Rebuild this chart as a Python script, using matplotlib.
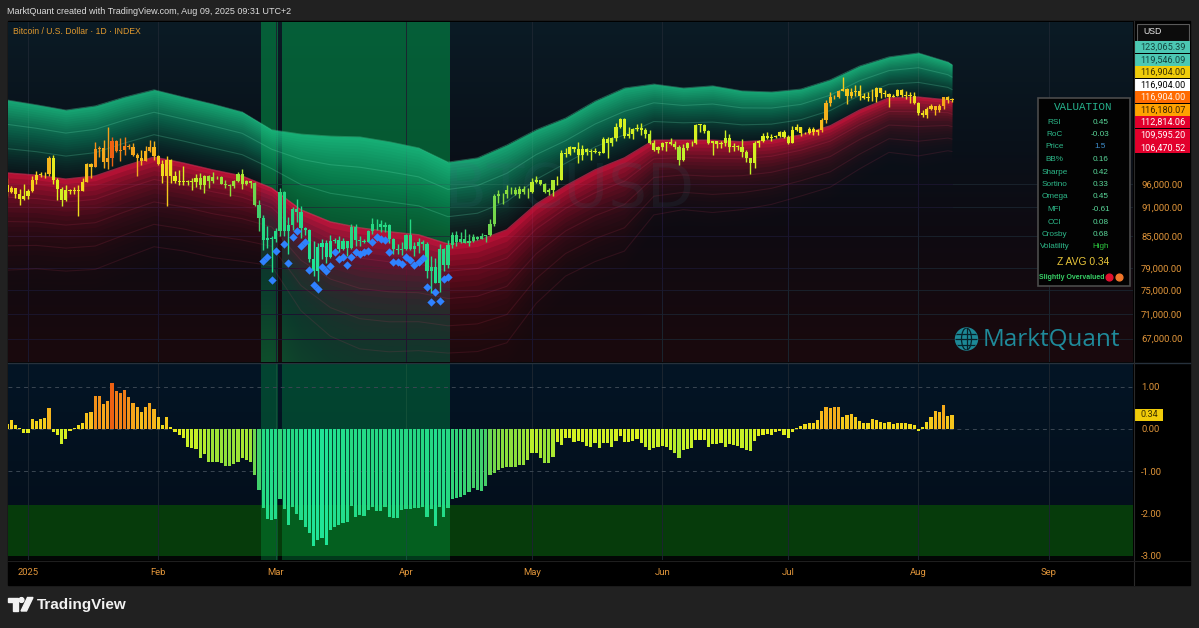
import numpy as np
import pandas as pd
import matplotlib
matplotlib.use("Agg")
import matplotlib.pyplot as plt
import matplotlib.dates as mdates
from matplotlib.colors import LinearSegmentedColormap, Normalize
from matplotlib.patches import Rectangle, Circle, Polygon, Ellipse
from matplotlib.ticker import FixedLocator, NullLocator, FuncFormatter

# ---------------- data ----------------
# BTCUSD daily candles (thousands of USD), first candle 2024-12-27, last 2025-08-09
first_open = 95.7
close = [
    94.2, 95.1, 93.7, 92.8, 93.4,
    94.4, 96.9, 98.1, 98.2, 98.3, 102.1, 96.9, 95.0, 92.5, 94.7,
    94.5, 94.5, 94.5, 96.5, 100.5, 99.9, 104.1, 104.4, 101.1, 102.0,
    106.1, 103.7, 104.0, 104.8, 104.7, 102.6, 102.1, 101.3, 103.7, 104.7,
    102.4, 100.6, 97.7, 101.4, 97.9, 96.6, 96.5, 96.5, 96.6, 96.5,
    97.4, 95.8, 97.9, 96.6, 97.5, 97.6, 96.1, 95.8, 95.5, 96.6,
    98.3, 96.1, 96.6, 96.3, 91.5, 88.7, 84.3, 84.7, 84.4, 86.0,
    94.3, 86.1, 87.2, 90.6, 89.9, 86.7, 86.2, 80.7, 78.5, 83.0,
    83.7, 81.1, 84.0, 84.3, 82.6, 84.1, 82.7, 86.9, 84.2, 84.0,
    83.8, 86.1, 87.5, 87.4, 86.9, 87.2, 84.4, 82.6, 82.3, 82.5,
    85.2, 82.5, 83.1, 83.8, 83.5, 78.4, 79.2, 76.3, 82.6, 79.6,
    83.4, 85.3, 83.8, 84.5, 83.7, 84.1, 84.9, 84.5, 85.1, 85.2,
    87.5, 93.4, 93.7, 93.9, 94.7, 94.6, 93.8, 95.0, 94.3, 94.2,
    96.5, 96.9, 95.9, 94.3, 94.7, 96.8, 97.0, 103.2, 102.9, 104.6,
    104.1, 102.8, 104.1, 103.5, 103.7, 103.5, 103.2, 106.5, 105.6, 106.8,
    109.7, 111.7, 107.3, 107.8, 109.0, 109.4, 108.9, 107.8, 105.6, 103.9,
    104.6, 105.7, 105.8, 105.4, 104.7, 101.5, 104.3, 105.6, 105.7, 110.2,
    110.2, 108.6, 105.7, 106.1, 105.4, 105.6, 106.8, 104.6, 104.9, 104.6,
    103.3, 102.1, 100.9, 105.6, 106.0, 107.3, 106.9, 107.1, 107.4, 108.4,
    107.1, 105.7, 108.8, 109.6, 108.0, 108.2, 109.2, 108.3, 108.9, 111.3,
    116.0, 117.5, 117.4, 119.1, 119.8, 117.7, 118.8, 119.3, 117.9, 117.3,
    117.4, 117.4, 119.9, 118.6, 118.3, 117.6, 117.9, 119.4, 118.0, 117.9,
    117.8, 115.8, 113.3, 112.6, 114.2, 115.0, 114.1, 115.0, 117.5, 116.7,
    116.9,
]
high = [
    97.3, 95.5, 95.2, 94.9, 96.1,
    94.9, 97.8, 98.9, 98.7, 98.8, 102.5, 102.7, 97.3, 95.3, 95.8,
    95.0, 95.4, 95.8, 97.4, 100.7, 100.9, 105.9, 104.9, 106.3, 109.6,
    107.2, 106.3, 106.8, 107.1, 105.3, 105.5, 103.2, 103.8, 104.8, 106.4,
    106.0, 102.8, 101.5, 102.5, 101.7, 99.0, 99.2, 100.1, 96.9, 97.3,
    98.3, 98.5, 98.1, 98.0, 98.8, 97.9, 97.7, 97.0, 96.1, 96.9,
    98.8, 99.5, 96.9, 96.5, 96.5, 92.5, 89.3, 87.0, 85.1, 86.6,
    95.1, 94.4, 88.9, 91.0, 92.8, 91.3, 86.9, 86.5, 84.0, 83.6,
    84.4, 84.3, 85.3, 84.7, 85.0, 84.7, 84.0, 87.4, 87.4, 85.0,
    84.5, 86.2, 88.7, 88.5, 88.3, 87.8, 87.5, 84.6, 83.5, 83.9,
    85.5, 88.5, 83.9, 84.7, 84.2, 83.8, 81.2, 80.8, 83.5, 82.7,
    84.2, 85.9, 86.1, 85.8, 86.4, 85.5, 85.5, 85.1, 85.6, 85.3,
    88.5, 93.9, 94.7, 94.0, 95.8, 95.3, 95.3, 95.6, 95.5, 95.2,
    97.4, 97.9, 96.9, 96.2, 95.2, 96.9, 97.7, 104.0, 104.3, 104.9,
    104.6, 105.8, 105.0, 104.3, 104.2, 104.5, 103.7, 107.1, 107.1, 107.1,
    110.7, 112.0, 111.9, 109.5, 109.3, 110.4, 110.7, 109.3, 108.9, 106.3,
    104.9, 105.9, 105.9, 106.8, 106.0, 105.0, 105.4, 105.9, 106.0, 110.5,
    110.4, 110.4, 108.8, 106.2, 106.2, 106.0, 108.9, 107.8, 105.6, 105.2,
    106.5, 104.0, 102.1, 106.1, 106.3, 108.0, 108.3, 107.8, 107.6, 108.5,
    108.8, 107.5, 109.8, 110.5, 109.7, 108.4, 109.7, 109.7, 109.2, 111.9,
    116.8, 118.9, 118.2, 119.5, 123.2, 119.9, 119.9, 120.9, 120.9, 118.6,
    118.9, 119.7, 120.2, 120.1, 119.5, 118.5, 118.3, 119.8, 119.8, 119.2,
    118.8, 118.9, 116.1, 114.0, 114.8, 115.7, 115.1, 115.7, 117.6, 117.7,
    117.3,
]
low = [
    93.3, 94.0, 93.0, 91.5, 92.5,
    92.8, 94.2, 96.0, 97.6, 97.3, 97.9, 96.1, 92.5, 91.2, 92.2,
    93.8, 93.7, 89.2, 94.4, 96.5, 97.3, 99.9, 102.3, 99.6, 99.5,
    100.1, 103.3, 101.3, 102.8, 104.1, 102.5, 97.8, 100.3, 101.3, 103.3,
    101.6, 100.3, 96.2, 91.2, 96.2, 96.2, 95.7, 95.7, 95.7, 94.7,
    95.3, 94.9, 94.1, 95.2, 96.3, 97.2, 96.0, 95.2, 93.4, 95.1,
    96.4, 94.9, 95.8, 95.2, 91.2, 86.0, 82.3, 82.8, 78.2, 83.8,
    85.1, 85.1, 81.5, 86.3, 87.9, 84.7, 85.3, 80.1, 77.5, 76.6,
    80.6, 79.9, 80.8, 83.6, 82.0, 82.4, 81.2, 82.6, 83.2, 83.2,
    83.6, 83.8, 85.5, 86.3, 85.9, 85.9, 83.6, 81.6, 81.6, 81.3,
    82.4, 82.3, 81.2, 81.7, 82.4, 77.2, 74.5, 76.2, 74.6, 78.5,
    78.9, 82.8, 83.1, 83.7, 83.6, 83.1, 83.9, 84.3, 84.4, 83.9,
    85.1, 87.1, 91.9, 91.7, 92.9, 93.9, 93.6, 92.9, 93.8, 92.9,
    94.1, 96.3, 95.8, 94.1, 93.5, 93.4, 95.8, 97.0, 102.3, 102.8,
    103.3, 100.8, 101.5, 102.7, 101.4, 103.1, 102.6, 103.1, 102.0, 104.8,
    106.1, 109.3, 106.8, 106.9, 106.6, 108.7, 107.6, 106.8, 105.4, 103.6,
    103.1, 103.9, 103.7, 105.0, 104.2, 100.4, 101.2, 103.9, 104.9, 105.3,
    108.4, 108.1, 105.4, 102.7, 104.3, 104.5, 104.9, 103.4, 103.6, 103.9,
    102.3, 101.0, 98.2, 99.6, 104.6, 105.9, 106.6, 106.2, 106.9, 107.2,
    106.8, 105.3, 105.6, 108.6, 107.3, 107.8, 107.8, 107.5, 107.5, 108.4,
    110.6, 115.2, 116.9, 117.3, 119.1, 115.7, 117.2, 117.8, 116.8, 117.0,
    116.5, 116.5, 116.1, 117.3, 117.4, 114.7, 117.5, 117.8, 117.5, 116.9,
    115.8, 115.5, 112.7, 112.1, 112.0, 114.1, 112.7, 113.4, 114.3, 115.9,
    116.3,
]

# valuation z-score (lower pane), one value per candle
zscore = [
    0.12, 0.21, 0.10, 0.02, -0.09, -0.09, 0.23, 0.20, 0.23, 0.25,
    0.49, -0.06, -0.14, -0.35, -0.24, -0.05, 0.02, 0.10, 0.15, 0.37,
    0.39, 0.78, 0.78, 0.58, 0.66, 1.09, 0.90, 0.86, 0.92, 0.76,
    0.61, 0.53, 0.39, 0.51, 0.61, 0.47, 0.29, 0.10, 0.29, 0.05,
    -0.06, -0.14, -0.22, -0.43, -0.46, -0.48, -0.69, -0.58, -0.77, -0.77,
    -0.77, -0.81, -0.87, -0.87, -0.83, -0.77, -0.69, -0.73, -0.79, -1.09,
    -1.44, -1.87, -2.13, -2.16, -2.12, -1.66, -1.90, -2.27, -1.85, -2.00,
    -2.15, -2.31, -2.46, -2.76, -2.63, -2.58, -2.75, -2.38, -2.32, -2.27,
    -2.23, -2.19, -1.82, -2.07, -2.03, -2.05, -1.91, -1.84, -1.93, -1.95,
    -1.84, -2.07, -2.11, -2.11, -1.91, -1.90, -1.90, -1.86, -1.86, -1.84,
    -2.07, -1.90, -2.30, -1.84, -2.07, -1.87, -1.66, -1.64, -1.60, -1.56,
    -1.50, -1.40, -1.44, -1.46, -1.35, -1.09, -1.05, -0.97, -0.93, -0.90,
    -0.89, -0.90, -0.85, -0.85, -0.73, -0.56, -0.57, -0.69, -0.81, -0.81,
    -0.67, -0.30, -0.38, -0.22, -0.22, -0.30, -0.28, -0.30, -0.40, -0.42,
    -0.32, -0.46, -0.32, -0.34, -0.43, -0.28, -0.16, -0.30, -0.30, -0.28,
    -0.24, -0.33, -0.43, -0.50, -0.46, -0.43, -0.40, -0.43, -0.50, -0.56,
    -0.69, -0.50, -0.48, -0.46, -0.26, -0.26, -0.26, -0.42, -0.36, -0.36,
    -0.34, -0.43, -0.36, -0.38, -0.40, -0.46, -0.50, -0.51, -0.28, -0.17,
    -0.14, -0.13, -0.14, -0.06, -0.04, -0.14, -0.22, -0.08, 0.02, 0.07,
    0.11, 0.13, 0.15, 0.21, 0.43, 0.51, 0.50, 0.53, 0.53, 0.29,
    0.32, 0.36, 0.29, 0.20, 0.15, 0.13, 0.23, 0.21, 0.17, 0.13,
    0.17, 0.12, 0.13, 0.15, 0.13, 0.12, 0.09, -0.04, 0.04, 0.17,
    0.29, 0.43, 0.41, 0.57, 0.31, 0.34,
]

# blue diamonds (thousands USD) on the deep undervalued days
diamond_price = [
    80.3, 81.1, 76.8, 82.2, 83.5, 79.9, 84.9, 86.1, 83.1, 83.8,
    78.6, 75.9, 75.2, 79.1, 78.5, 79.3, 82.0, 80.6, 81.0, 79.5,
    81.0, 82.0, 81.6, 82.0, 82.2, 83.9, 84.8, 84.4, 84.3, 82.0,
    80.1, 80.0, 79.7, 81.0, 80.4, 79.5, 80.1, 80.8, 75.5, 72.9,
    74.6, 73.2, 76.9, 77.4,
]

# valuation bands, weekly samples: basis (green/red boundary) and outer green edge
band_dates = list(pd.date_range("2024-12-27", periods=33, freq="7D")) + [pd.Timestamp("2025-08-09")]
band_basis = [
    98.5, 98.0, 97.1, 97.8, 100.1, 102.2, 100.8, 99.2, 97.8, 95.1,
    90.4, 87.9, 86.7, 85.9, 85.3, 83.5, 84.1, 86.3, 91.6, 95.6,
    99.2, 102.0, 106.3, 106.3, 106.3, 105.9, 106.3, 107.6, 109.9, 114.0,
    117.3, 117.5, 116.7, 116.2,
]
band_upper = [
    116.7, 115.4, 114.0, 115.1, 117.5, 119.5, 117.5, 115.6, 113.5, 108.9,
    107.8, 107.3, 107.1, 105.9, 104.4, 101.0, 102.0, 105.1, 108.9, 111.9,
    116.4, 120.0, 121.1, 120.0, 120.6, 119.2, 118.9, 119.7, 122.3, 126.3,
    129.0, 130.2, 127.5, 126.7,
]

price_ticks = [67, 71, 75, 79, 85, 91, 96]
osc_ticks = [1, 0, -1, -2, -3]
month_labels = ["2025", "Feb", "Mar", "Apr", "May", "Jun", "Jul", "Aug", "Sep"]

last_labels = ["123,065.39", "119,546.09", "116,904.00", "116,904.00", "116,904.00",
               "116,180.07", "112,814.06", "109,595.20", "106,470.52"]
last_bg = ["#4cc8b3", "#4cc8b3", "#f0cc0a", "#ffffff", "#ff6a00",
           "#ffa200", "#e2002c", "#e2002c", "#e2002c"]
last_fg = ["#14463f", "#14463f", "#3b3000", "#000000", "#fff4ea",
           "#3b2300", "#ffffff", "#ffffff", "#ffffff"]

table_names = ["RSI", "RoC", "Price", "BB%", "Sharpe", "Sortino", "Omega",
               "MFI", "CCI", "Crosby", "Volatility"]
table_values = ["0.45", "-0.03", "1.5", "0.16", "0.42", "0.33", "0.45",
                "-0.61", "0.08", "0.68", "High"]
z_avg = 0.34

# ---------------- layout helpers ----------------
W, H = 1199, 628
fig = plt.figure(figsize=(W / 100, H / 100), dpi=100, facecolor="#212121")


def rect(x0, y0, x1, y1):
    return [x0 / W, 1 - y1 / H, (x1 - x0) / W, (y1 - y0) / H]


def pixel_axes(z):
    a = fig.add_axes([0, 0, 1, 1], zorder=z)
    a.set_xlim(0, W)
    a.set_ylim(H, 0)
    a.axis("off")
    a.patch.set_alpha(0)
    return a


base = pixel_axes(0)
base.add_patch(Rectangle((8, 21), 1182, 564, color="#000000"))

PX0, PX1 = 8, 1133
# background gradients
bgp = fig.add_axes(rect(PX0, 22, PX1, 362), zorder=1)
stops = np.array([[11, 27, 37], [9, 17, 26], [14, 11, 18], [26, 9, 13]]) / 255
pos = np.array([0.0, 0.35, 0.6, 1.0])
t = np.linspace(0, 1, 200)
grad = np.stack([np.interp(t, pos, stops[:, i]) for i in range(3)], axis=1)
bgp.imshow(grad[:, None, :], aspect="auto", extent=[0, 1, 0, 1])
bgp.axis("off")

bgo = fig.add_axes(rect(PX0, 363, PX1, 560), zorder=1)
stops_o = np.array([[4, 21, 37], [3, 13, 25]]) / 255
grad_o = np.stack([np.interp(t, [0, 1], stops_o[:, i]) for i in range(3)], axis=1)
bgo.imshow(grad_o[:, None, :], aspect="auto", extent=[0, 1, 0, 1])
bgo.axis("off")

ax_p = fig.add_axes(rect(PX0, 22, PX1, 362), zorder=2)
ax_o = fig.add_axes(rect(PX0, 363, PX1, 560), zorder=2)
for a in (ax_p, ax_o):
    a.patch.set_alpha(0)
    for s in a.spines.values():
        s.set_visible(False)

# x scale: 4.2 px per day, 2025-01-01 at x=28
jan1 = mdates.date2num(pd.Timestamp("2025-01-01"))
for a in (ax_p, ax_o):
    a.set_xlim(jan1 - (28 - PX0) / 4.2, jan1 + (PX1 - 28) / 4.2)

ax_p.set_yscale("log")
ax_p.set_ylim(96 * np.exp(-178 / 430), 96 * np.exp(162 / 430))
ax_o.set_ylim(-3.097, 1.560)

# ---------------- colours ----------------
zcmap = LinearSegmentedColormap.from_list("z", [
    (0.00, "#20e496"), (0.22, "#26d680"), (0.35, "#4acd64"), (0.46, "#8cde3c"),
    (0.57, "#c4f028"), (0.67, "#e2f01e"), (0.75, "#f4d61c"), (0.83, "#f6b61c"),
    (0.92, "#f28e1a"), (1.00, "#ec6012")])
znorm = Normalize(-2.6, 1.1)

dates = pd.date_range("2024-12-27", periods=len(close), freq="D")
xd = mdates.date2num(dates)
z = np.array(zscore)
cols = zcmap(znorm(z))

c = np.array(close)
o = np.array([first_open] + close[:-1])
hi = np.array(high)
lo = np.array(low)

# ---------------- undervalued shading ----------------
deep = z < -1.7
runs = []
i = 0
while i < len(z):
    if deep[i]:
        j = i
        while j + 1 < len(z) and deep[j + 1]:
            j += 1
        runs.append((i, j))
        i = j + 1
    else:
        i += 1
for i, j in runs:
    ax_p.axvspan(xd[i] - 0.5, xd[j] + 0.5, color="#00be55", alpha=0.42, lw=0, zorder=0.5)
    ax_o.axvspan(xd[i] - 0.5, xd[j] + 0.5, color="#00b450", alpha=0.30, lw=0, zorder=0.6)

# ---------------- bands ----------------
bx = mdates.date2num(band_dates)
b = np.array(band_basis)
w = np.log(np.array(band_upper) / b) / 3


def level(k):
    return b * np.exp(k * w)


green = "#1ec387"
step = 0.1
gk = np.arange(0, 3 - 1e-9, step)
g_target = 0.04 + 0.82 * ((gk + step / 2) / 3) ** 1.25
prev = 0.0
for k, tgt in zip(gk, g_target):
    a = 1 - (1 - tgt) / (1 - prev)
    prev = tgt
    ax_p.fill_between(bx, level(k), level(3), color=green, alpha=a, lw=0, zorder=1)

crimson = "#dc1440"
rk = -np.arange(0.2, 10.01, 0.2)
mid = rk + 0.1
r_target = 0.86 * np.exp(0.62 * mid) + 0.045 * np.clip((mid + 10) / 4, 0, 1)
T = 1 - r_target
alphas = np.empty_like(T)
alphas[-1] = 1 - T[-1]
for i in range(len(T) - 2, -1, -1):
    alphas[i] = 1 - T[i] / T[i + 1]
for k, a in zip(rk, alphas):
    ax_p.fill_between(bx, level(k), level(0), color=crimson, alpha=a, lw=0, zorder=1)

for k in (1, 2):
    ax_p.plot(bx, level(k), color="#6ee8bb", alpha=0.22, lw=0.8, zorder=1.2)
ax_p.plot(bx, level(3), color="#4fe0aa", alpha=0.35, lw=0.8, zorder=1.2)
for k in (-1, -2, -3, -4):
    ax_p.plot(bx, level(k), color="#ff4a78", alpha=0.11, lw=0.8, zorder=1.2)
ax_p.plot(bx, level(0), color="#ff3060", alpha=0.55, lw=1.0, zorder=1.2)

# watermark
ax_p.text((570 - PX0) / (PX1 - PX0), (362 - 190) / 340, "BTCUSD", transform=ax_p.transAxes,
          fontsize=44, color="#3a6a78", alpha=0.12, ha="center", va="center", zorder=2,
          family="DejaVu Sans")

# ---------------- candles ----------------
body_lo = np.minimum(o, c)
body_h = np.maximum(np.abs(c - o), c * 0.0012)
ax_p.vlines(xd, lo, hi, colors=cols, lw=1.0, zorder=5)
ax_p.bar(xd, body_h, bottom=body_lo, width=0.72, color=cols, lw=0, zorder=6)

ddates = xd[deep]
n = min(len(ddates), len(diamond_price))
ax_p.scatter(ddates[:n], diamond_price[:n], marker="D", s=18, color="#2f82ff", lw=0, zorder=7)

# ---------------- oscillator ----------------
ax_o.axhspan(-3.0, -1.8, color="#063b0b", lw=0, zorder=0.3)
ax_o.axhspan(-3.2, -3.0, color="#020605", lw=0, zorder=0.3)
for v in (1, 0, -1):
    ax_o.axhline(v, color="#3a4652", lw=0.7, ls=(0, (4, 4)), zorder=1)
ax_o.bar(xd, z, width=0.74, color=cols, lw=0, zorder=3)

# ---------------- axes / ticks ----------------
month_pos = mdates.date2num(pd.date_range("2025-01-01", "2025-09-01", freq="MS"))
lab_col = "#e0953a"
for a in (ax_p, ax_o):
    a.xaxis.set_major_locator(FixedLocator(month_pos))
    a.grid(True, axis="x", color="#1b2530", lw=0.7, zorder=0.4)
    a.set_axisbelow(True)
    a.yaxis.tick_right()
    a.tick_params(axis="y", length=0, pad=5.8, labelcolor=lab_col, labelsize=6.8)
    a.tick_params(axis="x", length=0)

ax_p.yaxis.set_major_locator(FixedLocator(price_ticks))
ax_p.yaxis.set_minor_locator(NullLocator())
ax_p.yaxis.set_major_formatter(FuncFormatter(lambda v, p: f"{v * 1000:,.2f}"))
ax_p.grid(True, axis="y", color="#1b2530", lw=0.6, zorder=0.4)
ax_p.tick_params(axis="x", labelbottom=False)

ax_o.yaxis.set_major_locator(FixedLocator(osc_ticks))
ax_o.yaxis.set_major_formatter(FuncFormatter(lambda v, p: f"{v:.2f}"))
ax_o.set_xticklabels(month_labels)
ax_o.tick_params(axis="x", pad=6.0, labelcolor=lab_col, labelsize=6.8)
for lab in ax_p.get_yticklabels() + ax_o.get_yticklabels() + ax_o.get_xticklabels():
    lab.set_family("Roboto")

# ---------------- overlay: header, scale labels, table, logos ----------------
ov = pixel_axes(10)
ov.plot([8, 1190], [362.5, 362.5], color="#26313c", lw=1.0)
ov.plot([1133.5, 1133.5], [21, 585], color="#2a2a2a", lw=0.8)
ov.plot([8, 1190], [560.5, 560.5], color="#1e1e1e", lw=0.8)

ov.text(7, 11, "MarktQuant created with TradingView.com, Aug 09, 2025 09:31 UTC+2",
        color="#dcdcdc", fontsize=6.5, va="center", ha="left", family="Liberation Sans")
ov.text(13, 31, "Bitcoin / U.S. Dollar \u00b7 1D \u00b7 INDEX", color="#e0982e",
        fontsize=6.2, va="center", ha="left", family="Liberation Sans")

# USD box
ov.add_patch(Rectangle((1137, 23.5), 52, 17, fc="#0c0c0c", ec="#5a5a5a", lw=0.8))
ov.text(1143, 32, "USD", color="#e8e8e8", fontsize=6.3, va="center", ha="left",
        family="Liberation Sans")

# stacked last-value labels
for k, (txt, bgc, fgc) in enumerate(zip(last_labels, last_bg, last_fg)):
    yc = 47 + 12.55 * k
    ov.add_patch(Rectangle((1135, yc - 6), 55, 12, fc=bgc, ec="none"))
    ov.text(1162.5, yc + 0.3, txt, color=fgc, fontsize=6.6, va="center", ha="center",
            family="Roboto")

# z-score last value label
zy = 429 - z_avg * 42.3
ov.add_patch(Rectangle((1135, zy - 6), 28, 12, fc="#f0cc0a", ec="none"))
ov.text(1149, zy + 0.3, f"{z_avg:.2f}", color="#3b3000", fontsize=6.6, va="center",
        ha="center", family="Roboto")

# valuation table
ov.add_patch(Rectangle((1037.5, 97.5), 92, 188, fc="#020202", ec="#4b4b4b", lw=1.2))
ov.text(1083, 107.5, "VALUATION", color="#26b48e", fontsize=7.8, va="center",
        ha="center", family="Liberation Mono")
for k, (nm, val) in enumerate(zip(table_names, table_values)):
    yy = 122 + 12.5 * k
    vcol = "#5ad89a"
    if nm == "Price":
        vcol = "#3f8fce"
    elif nm == "Volatility":
        vcol = "#2cc63e"
    ov.text(1054.5, yy, nm, color="#2db98a", fontsize=5.9, va="center", ha="center",
            family="Liberation Sans")
    ov.text(1100.5, yy, val, color=vcol, fontsize=5.9, va="center", ha="center",
            family="Liberation Sans")
ov.text(1083, 262, f"Z AVG {z_avg:.2f}", color="#e8c53a", fontsize=7.4, va="center",
        ha="center", family="Liberation Sans")
ov.text(1072, 277.5, "Slightly Overvalued", color="#37cf66", fontsize=5.0,
        va="center", ha="center", family="Liberation Sans", weight="bold")
ov.add_patch(Circle((1109.5, 277.5), 3.4, color="#e2102e"))
ov.add_patch(Circle((1119.5, 277.5), 3.4, color="#f0762a"))

# MarktQuant logo
globe = Circle((966.5, 339), 11, color="#1d8896")
ov.add_patch(globe)
ell = Ellipse((966.5, 339), 10, 22, fill=False, ec="#07222a", lw=0.9)
ov.add_patch(ell)
ell.set_clip_path(globe)
for yy in (333.5, 339, 344.5):
    ln, = ov.plot([954, 979], [yy, yy], color="#07222a", lw=0.9)
    ln.set_clip_path(globe)
ln, = ov.plot([966.5, 966.5], [327, 351], color="#07222a", lw=0.9)
ln.set_clip_path(globe)
ov.text(983, 339.5, "MarktQuant", color="#1f8a9a", fontsize=17.5, va="center",
        ha="left", family="Open Sans")

# TradingView footer
ov.add_patch(Polygon([(8, 597.5), (17.5, 597.5), (17.5, 611), (12.5, 611), (12.5, 602), (8, 602)],
                     closed=True, color="#f2f2f2"))
ov.add_patch(Circle((21.5, 600), 2.4, color="#f2f2f2"))
ov.add_patch(Polygon([(21, 611), (26.5, 611), (33, 597.5), (27.5, 597.5)], closed=True,
                     color="#f2f2f2"))
ov.text(37, 604.5, "TradingView", color="#f2f2f2", fontsize=11, weight="bold",
        va="center", ha="left", family="Liberation Sans")

fig.savefig("out.png", dpi=100, facecolor=fig.get_facecolor())
